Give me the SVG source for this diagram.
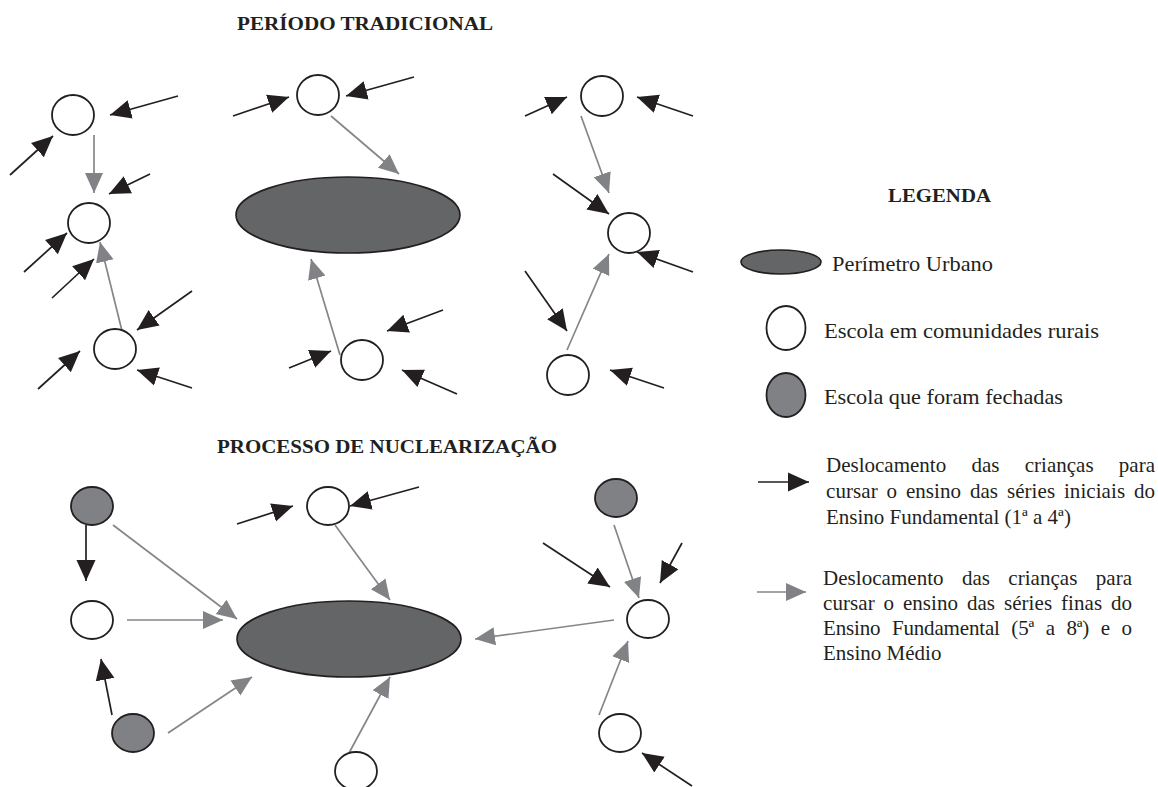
<svg xmlns="http://www.w3.org/2000/svg" width="1158" height="787" viewBox="0 0 1158 787">
<style>
.t{font-family:"Liberation Serif","Times New Roman",serif;fill:#231f20}
.ttl{font-weight:bold;font-size:19px}
.lg{font-size:21px}
.sc{fill:#fff;stroke:#231f20;stroke-width:1.8}
.cl{fill:#808184;stroke:#231f20;stroke-width:1.8}
.urb{fill:#646567;stroke:#231f20;stroke-width:1.6}
.bk{stroke:#231f20;stroke-width:1.7;marker-end:url(#ahb)}
.gr{stroke:#858688;stroke-width:1.7;marker-end:url(#ahg)}
</style>
<defs>
<marker id="ahb" markerUnits="userSpaceOnUse" markerWidth="22" markerHeight="21" viewBox="0 0 22 21" refX="21" refY="10.5" orient="auto"><path d="M0,1 L21,10.5 L0,20 z" fill="#231f20"/></marker>
<marker id="ahg" markerUnits="userSpaceOnUse" markerWidth="22" markerHeight="21" viewBox="0 0 22 21" refX="20" refY="10.5" orient="auto"><path d="M0,1.5 L20,10.5 L0,19.5 z" fill="#808285"/></marker>
</defs>
<rect width="1158" height="787" fill="#fff"/>

<text class="t ttl" x="237" y="30" textLength="256" lengthAdjust="spacingAndGlyphs">PERÍODO TRADICIONAL</text>
<text class="t ttl" x="217" y="453" textLength="340" lengthAdjust="spacingAndGlyphs">PROCESSO DE NUCLEARIZAÇÃO</text>

<g id="connectors">
<line class="bk" x1="178" y1="96" x2="110" y2="115"/>
<line class="bk" x1="10" y1="175" x2="53" y2="136"/>
<line class="bk" x1="150" y1="174" x2="109" y2="194"/>
<line class="bk" x1="24" y1="272" x2="67" y2="233"/>
<line class="bk" x1="52" y1="298" x2="94" y2="259"/>
<line class="bk" x1="192" y1="291" x2="137" y2="330"/>
<line class="bk" x1="38" y1="389" x2="80" y2="351"/>
<line class="bk" x1="192" y1="388" x2="137" y2="370"/>
<line class="bk" x1="233" y1="116" x2="289" y2="97"/>
<line class="bk" x1="414" y1="77" x2="346" y2="96"/>
<line class="bk" x1="289" y1="368" x2="331" y2="351"/>
<line class="bk" x1="443" y1="310" x2="387" y2="331"/>
<line class="bk" x1="457" y1="394" x2="402" y2="370"/>
<line class="bk" x1="525" y1="116" x2="567" y2="97"/>
<line class="bk" x1="693" y1="116" x2="637" y2="97"/>
<line class="bk" x1="553" y1="174" x2="609" y2="214"/>
<line class="bk" x1="693" y1="272" x2="637" y2="252"/>
<line class="bk" x1="525" y1="271" x2="567" y2="331"/>
<line class="bk" x1="664" y1="388" x2="610" y2="370"/>
<line class="gr" x1="94" y1="135" x2="94" y2="193"/>
<line class="gr" x1="122" y1="331" x2="100" y2="242"/>
<line class="gr" x1="331" y1="116" x2="399" y2="174"/>
<line class="gr" x1="340" y1="355" x2="311" y2="259"/>
<line class="gr" x1="581" y1="116" x2="609" y2="193"/>
<line class="gr" x1="567" y1="350" x2="609" y2="254"/>

<line class="bk" x1="86" y1="525" x2="86" y2="581"/>
<line class="bk" x1="112" y1="715" x2="101" y2="659"/>
<line class="bk" x1="237" y1="524" x2="293" y2="506"/>
<line class="bk" x1="419" y1="487" x2="350" y2="506"/>
<line class="bk" x1="543" y1="543" x2="610" y2="587"/>
<line class="bk" x1="682" y1="543" x2="660" y2="583"/>
<line class="bk" x1="692" y1="786" x2="642" y2="753"/>
<line class="gr" x1="113" y1="525" x2="237" y2="619"/>
<line class="gr" x1="127" y1="620" x2="223" y2="620"/>
<line class="gr" x1="168" y1="733" x2="252" y2="677"/>
<line class="gr" x1="335" y1="525" x2="390" y2="600"/>
<line class="gr" x1="349" y1="753" x2="390" y2="677"/>
<line class="gr" x1="614" y1="525" x2="639" y2="598"/>
<line class="gr" x1="614" y1="620" x2="475" y2="639"/>
<line class="gr" x1="599" y1="715" x2="628" y2="641"/>
</g>

<g id="top-A"><ellipse class="sc" cx="73" cy="115" rx="21" ry="20"/></g>
<g id="top-B"><ellipse class="sc" cx="89" cy="223" rx="21" ry="20"/></g>
<g id="top-C"><ellipse class="sc" cx="115" cy="349" rx="21" ry="20"/></g>
<g id="top-D"><ellipse class="sc" cx="318" cy="95" rx="21" ry="20"/></g>
<g id="top-E"><ellipse class="sc" cx="362" cy="360" rx="21" ry="20"/></g>
<g id="top-F"><ellipse class="sc" cx="602" cy="96" rx="21" ry="20"/></g>
<g id="top-G"><ellipse class="sc" cx="629" cy="233" rx="21" ry="20"/></g>
<g id="top-H"><ellipse class="sc" cx="568" cy="375" rx="21" ry="20"/></g>
<g id="top-urban"><ellipse class="urb" cx="348" cy="215" rx="112" ry="38"/></g>

<g id="bot-I"><ellipse class="cl" cx="92" cy="506" rx="21" ry="19"/></g>
<g id="bot-J"><ellipse class="sc" cx="92" cy="620" rx="21" ry="19"/></g>
<g id="bot-K"><ellipse class="cl" cx="133" cy="733" rx="21" ry="19"/></g>
<g id="bot-L"><ellipse class="sc" cx="328" cy="506" rx="21" ry="19"/></g>
<g id="bot-M"><ellipse class="sc" cx="356" cy="771" rx="21" ry="19"/></g>
<g id="bot-N"><ellipse class="cl" cx="616" cy="498" rx="21" ry="19"/></g>
<g id="bot-O"><ellipse class="sc" cx="648" cy="619" rx="21" ry="19"/></g>
<g id="bot-P"><ellipse class="sc" cx="620" cy="733" rx="21" ry="19"/></g>
<g id="bot-urban"><ellipse class="urb" cx="349" cy="639" rx="112" ry="38"/></g>

<g id="legend">
<text class="t ttl" x="888" y="202" textLength="103" lengthAdjust="spacingAndGlyphs">LEGENDA</text>
<ellipse class="urb" cx="781" cy="262" rx="40" ry="12"/>
<text class="t lg" x="832" y="271" textLength="161" lengthAdjust="spacingAndGlyphs">Perímetro Urbano</text>
<ellipse class="sc" cx="786" cy="328" rx="19.5" ry="22"/>
<text class="t lg" x="824" y="338" textLength="275" lengthAdjust="spacingAndGlyphs">Escola em comunidades rurais</text>
<ellipse class="cl" cx="786" cy="395" rx="19.5" ry="22"/>
<text class="t lg" x="824" y="404" textLength="239" lengthAdjust="spacingAndGlyphs">Escola que foram fechadas</text>
<line class="bk" x1="758" y1="482" x2="809" y2="482"/>
<text class="t lg" x="826" y="472" textLength="329" lengthAdjust="spacing" style="word-spacing:20px">Deslocamento das crianças para</text>
<text class="t lg" x="826" y="498" textLength="329" lengthAdjust="spacing" style="word-spacing:3.5px">cursar o ensino das séries iniciais do</text>
<text class="t lg" x="826" y="524">Ensino Fundamental (1ª a 4ª)</text>
<line class="gr" x1="757" y1="592" x2="806" y2="592"/>
<text class="t lg" x="823" y="585" textLength="309" lengthAdjust="spacing" style="word-spacing:13px">Deslocamento das crianças para</text>
<text class="t lg" x="823" y="610" textLength="309" lengthAdjust="spacing" style="word-spacing:3.5px">cursar o ensino das séries finas do</text>
<text class="t lg" x="823" y="635" textLength="309" lengthAdjust="spacing" style="word-spacing:6.5px">Ensino Fundamental (5ª a 8ª) e o</text>
<text class="t lg" x="823" y="660">Ensino Médio</text>
</g>
</svg>
